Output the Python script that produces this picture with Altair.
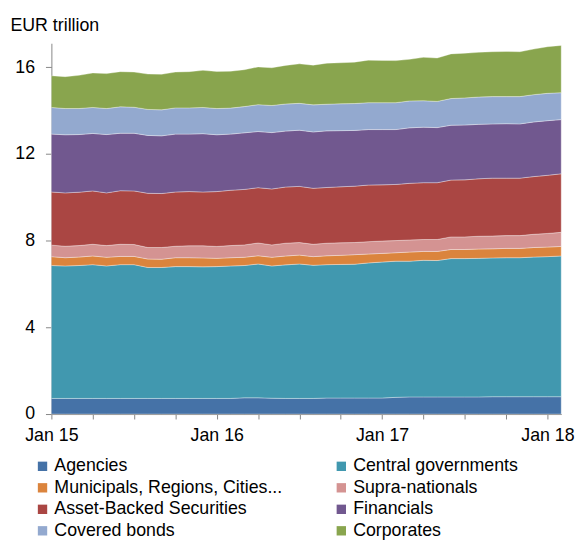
import altair as alt
import pandas as pd
import numpy as np

# Monthly observations, Jan 2015 .. Feb 2018
months = [f"{y}-{m:02d}" for y in (2015, 2016, 2017, 2018) for m in range(1, 13)][:38]

series = ["Agencies", "Central governments", "Municipals, Regions, Cities...",
          "Supra-nationals", "Asset-Backed Securities", "Financials",
          "Covered bonds", "Corporates"]
colors = ["#4572A7", "#4198AF", "#DB843D", "#D49392", "#AA4643", "#71588F",
          "#93A9CF", "#89A54E"]

# Cumulative upper edge of each layer (EUR trillion)
agencies_top = [0.72, 0.72, 0.72, 0.72, 0.72, 0.72, 0.72, 0.72, 0.72, 0.72,
                0.72, 0.72, 0.72, 0.72, 0.75, 0.75, 0.73, 0.72, 0.72, 0.72,
                0.74, 0.74, 0.74, 0.74, 0.74, 0.77, 0.79, 0.79, 0.79, 0.79,
                0.79, 0.79, 0.80, 0.80, 0.80, 0.80, 0.80, 0.80]
central_top = [6.85, 6.83, 6.85, 6.89, 6.83, 6.89, 6.89, 6.76, 6.76, 6.80,
               6.80, 6.79, 6.80, 6.83, 6.85, 6.92, 6.83, 6.88, 6.92, 6.86,
               6.89, 6.90, 6.91, 6.97, 7.01, 7.05, 7.05, 7.09, 7.08, 7.17,
               7.17, 7.18, 7.20, 7.21, 7.21, 7.24, 7.26, 7.29]
municipal_top = [7.26, 7.21, 7.24, 7.29, 7.23, 7.27, 7.27, 7.15, 7.14, 7.21,
                 7.21, 7.20, 7.18, 7.21, 7.23, 7.30, 7.23, 7.29, 7.33, 7.26,
                 7.30, 7.32, 7.35, 7.38, 7.41, 7.44, 7.47, 7.50, 7.50, 7.59,
                 7.59, 7.61, 7.62, 7.64, 7.64, 7.68, 7.70, 7.73]
supra_top = [7.79, 7.74, 7.77, 7.83, 7.77, 7.83, 7.82, 7.68, 7.68, 7.74,
             7.76, 7.76, 7.73, 7.77, 7.80, 7.89, 7.80, 7.88, 7.91, 7.83,
             7.88, 7.90, 7.91, 7.95, 7.98, 8.00, 8.03, 8.05, 8.05, 8.17,
             8.17, 8.20, 8.21, 8.23, 8.23, 8.29, 8.33, 8.38]
abs_top = [10.24, 10.20, 10.23, 10.29, 10.20, 10.30, 10.29, 10.18, 10.17, 10.24,
           10.26, 10.24, 10.26, 10.32, 10.36, 10.44, 10.38, 10.47, 10.50, 10.41,
           10.45, 10.48, 10.51, 10.56, 10.57, 10.59, 10.64, 10.67, 10.67, 10.79,
           10.80, 10.85, 10.88, 10.88, 10.88, 10.95, 11.01, 11.08]
financials_top = [12.91, 12.88, 12.89, 12.94, 12.89, 12.95, 12.95, 12.85, 12.83, 12.91,
                  12.91, 12.93, 12.88, 12.91, 12.97, 13.03, 12.98, 13.05, 13.09, 13.01,
                  13.06, 13.07, 13.08, 13.12, 13.12, 13.12, 13.20, 13.23, 13.21, 13.32,
                  13.33, 13.36, 13.38, 13.39, 13.38, 13.47, 13.53, 13.58]
covered_top = [14.14, 14.09, 14.09, 14.14, 14.09, 14.17, 14.15, 14.05, 14.03, 14.12,
               14.12, 14.14, 14.09, 14.11, 14.18, 14.27, 14.23, 14.30, 14.33, 14.26,
               14.29, 14.31, 14.32, 14.36, 14.36, 14.36, 14.44, 14.45, 14.42, 14.55,
               14.58, 14.62, 14.64, 14.64, 14.64, 14.73, 14.79, 14.82]
corporates_top = [15.60, 15.56, 15.62, 15.73, 15.70, 15.79, 15.77, 15.68, 15.67, 15.77,
                  15.79, 15.85, 15.80, 15.81, 15.88, 16.01, 15.97, 16.08, 16.15, 16.09,
                  16.18, 16.20, 16.23, 16.32, 16.31, 16.30, 16.36, 16.45, 16.42, 16.61,
                  16.64, 16.68, 16.71, 16.72, 16.71, 16.83, 16.94, 17.00]

tops = [agencies_top, central_top, municipal_top, supra_top, abs_top,
        financials_top, covered_top, corporates_top]

rows = []
for s_i, (name, top) in enumerate(zip(series, tops)):
    lower = [0.0] * len(months) if s_i == 0 else tops[s_i - 1]
    for m_i, month in enumerate(months):
        rows.append({"series": name, "order": s_i, "idx": m_i, "month": month,
                     "lo": lower[m_i], "hi": top[m_i]})
df = pd.DataFrame(rows)

FONT = "Liberation Sans"

x_ticks = list(range(0, 37, 3))

chart = alt.Chart(df).mark_area(
    stroke="white", strokeWidth=0.6, strokeOpacity=0.55, opacity=1, interpolate="linear"
).encode(
    x=alt.X("idx:Q", scale=alt.Scale(domain=[0, 37], nice=False, zero=False),
            axis=alt.Axis(values=x_ticks, title=None, grid=False,
                          labelExpr="datum.value % 12 == 0 ? 'Jan ' + (15 + datum.value / 12) : ''",
                          labelOverlap=False, labelFlush=False,
                          tickSize=5, labelPadding=8)),
    y=alt.Y("lo:Q", scale=alt.Scale(domain=[0, 17.1], nice=False),
            axis=alt.Axis(values=[0, 4, 8, 12, 16], title="EUR trillion", grid=False,
                          titleAngle=0, titleAlign="left", titleBaseline="alphabetic",
                          titleX=-42, titleY=-13, titleFontWeight="normal",
                          titleFontSize=18, titleFont=FONT, titleColor="#000000",
                          tickSize=6, labelPadding=11)),
    y2="hi:Q",
    color=alt.Color("series:N", scale=alt.Scale(domain=series, range=colors),
                    legend=alt.Legend(title=None, orient="none", legendX=-18, legendY=420,
                                      direction="horizontal",
                                      columns=2, columnPadding=50, rowPadding=3.8,
                                      symbolType="square", symbolSize=90,
                                      symbolStrokeWidth=0, labelOffset=3,
                                      labelFontSize=18, labelFont=FONT,
                                      labelColor="#000000", padding=0,
                                      labelLimit=400)),
    detail="order:O",
).properties(
    width=517, height=376,
    autosize=alt.AutoSizeParams(type="none"),
    padding={"left": 44, "top": 32, "right": 16, "bottom": 127},
).configure_view(
    stroke=None
).configure_axis(
    domainColor="#868686", tickColor="#868686", labelColor="#000000",
    labelFont=FONT, labelFontSize=18, domainWidth=1, tickWidth=1
)

chart.save("out.html", embed_options={"renderer": "svg", "actions": False})
